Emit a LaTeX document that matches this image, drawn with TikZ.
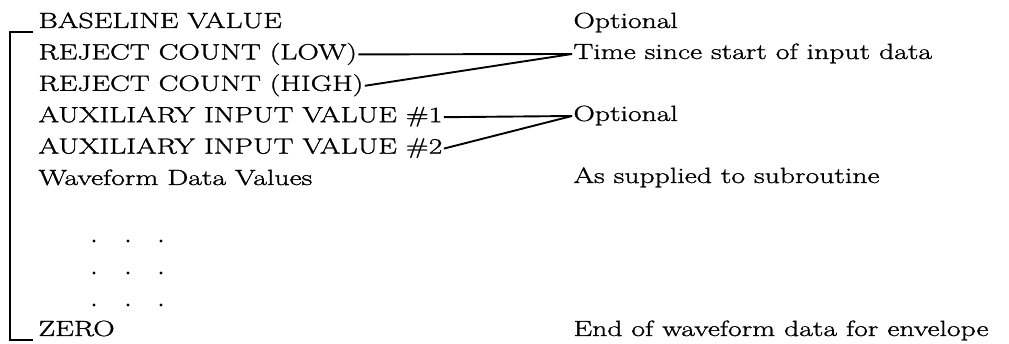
\documentclass[tikz,border=0pt]{standalone}
\usepackage{fontspec}
\setmainfont{Latin Modern Roman}[FakeStretch=1.35,FakeBold=1.3]
\usetikzlibrary{positioning}
\tikzset{item node/.style={inner sep=0pt,outer xsep=1.5pt,text height=15pt,text depth=5pt,anchor=base west,font=\fontsize{22}{26}\selectfont},
  link/.style={line width=1.9pt},}
\newcommand{\lnk}[2]{\draw[link] (#1.east) -- (#2.west);}

\begin{document}
\begin{tikzpicture}[x=1pt,y=-1pt]
        \useasboundingbox (0,0) rectangle (1009,344);

        \node[item node] (base) at (37,28) {BASELINE VALUE};
        \node[item node, below=11pt of base.south west, anchor=north west] (low) {REJECT COUNT (LOW)};
        \node[item node, below=11pt of low.south west, anchor=north west] (high) {REJECT COUNT (HIGH)};
        \node[item node, below=11pt of high.south west, anchor=north west] (aux1) {AUXILIARY INPUT VALUE \#1};
        \node[item node, below=11pt of aux1.south west, anchor=north west] (aux2) {AUXILIARY INPUT VALUE \#2};
        \node[item node, below=11pt of aux2.south west, anchor=north west] (wave) {Waveform Data Values};
        \node[item node] (zero) at (37,336) {ZERO};

        \node[item node] (opt1) at (572,28) {Optional};
        \node[item node] (since) at (572,59) {Time since start of input data};
        \node[item node] (opt2) at (572,121) {Optional};
        \node[item node] (supp) at (572,183) {As supplied to subroutine};
        \node[item node] (endw) at (572,336) {End of waveform data for envelope};

        \lnk{low}{since}
        \lnk{high}{since}
        \lnk{aux1}{opt2}
        \lnk{aux2}{opt2}

        % bracket round the list
        \draw[link] ([shift={(-4pt,-4pt)}]base.base west) -- ++(-23pt,0) |- ([shift={(-4pt,-4pt)}]zero.base west);

        \foreach \y in {241,273,305}
            \foreach \x in {94,128,161}
                \fill (\x,\y) circle (1.6pt);
    \end{tikzpicture}
\end{document}
